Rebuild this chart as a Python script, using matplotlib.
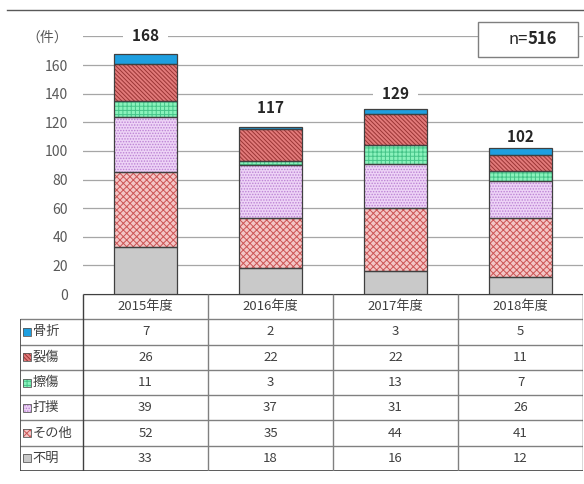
import numpy as np
import matplotlib
matplotlib.use('Agg')
import matplotlib.pyplot as plt
from matplotlib.patches import Rectangle
from matplotlib.lines import Line2D

plt.rcParams['font.family'] = ['Noto Sans CJK JP', 'DejaVu Sans']
plt.rcParams['hatch.linewidth'] = 0.7

# データ
years = ['2015年度', '2016年度', '2017年度', '2018年度']
kossetsu = [7, 2, 3, 5]      # 骨折
resshou = [26, 22, 22, 11]   # 裂傷
sasshou = [11, 3, 13, 7]     # 擦傷
dageki = [39, 37, 31, 26]    # 打撲
sonota = [52, 35, 44, 41]    # その他
fumei = [33, 18, 16, 12]     # 不明
n_total = 516

# 表の上から順
names = ['骨折', '裂傷', '擦傷', '打撲', 'その他', '不明']
series = [kossetsu, resshou, sasshou, dageki, sonota, fumei]
# (塗り, ハッチ, ハッチ色)
styles = [
    ('#1E9FE0', None, '#1E9FE0'),
    ('#E27A7A', '\\' * 8, '#9A3434'),
    ('#8AF2BC', '++++', '#45C488'),
    ('#EDD3F6', '......', '#BC82D4'),
    ('#F4C6C6', 'xxxxx', '#CC5555'),
    ('#C9C9C9', None, '#C9C9C9'),
]
label_offset = [12, 13, 11, 8]

W, H = 584, 484
fig = plt.figure(figsize=(W / 100, H / 100), dpi=100)

ppu = 125.0                       # px per category
y0, y_top = 294, 36.4
ax = fig.add_axes([83 / W, (H - y0) / H, 500 / W, (y0 - y_top) / H])
x = np.arange(len(years))
ax.set_xlim(-0.5, 3.5)
ax.set_ylim(0, 180)
ax.set_yticks(np.arange(0, 181, 20))
ax.set_yticklabels([str(v) for v in range(0, 161, 20)] + ['（件）'])
ax.tick_params(axis='y', length=0, pad=11, labelsize=10, labelcolor='#595959')
ax.set_xticks([])
for s in ax.spines.values():
    s.set_visible(False)
ax.grid(axis='y', color='#A6A6A6', linewidth=0.9)
ax.set_axisbelow(True)

bw = 0.51
bottom = np.zeros(len(years))
for vals, (fc, hatch, hc) in list(zip(series, styles))[::-1]:
    vals = np.array(vals, dtype=float)
    ax.bar(x, vals, bw, bottom=bottom, color=fc, edgecolor=hc, hatch=hatch,
           linewidth=0, zorder=2)
    ax.bar(x, vals, bw, bottom=bottom, facecolor='none', edgecolor='#404040',
           linewidth=0.9, zorder=3)
    bottom += vals

for i, tot in enumerate(bottom):
    ax.text(x[i], tot + label_offset[i], f'  {int(tot)}  ', ha='center', va='center',
            fontsize=11, fontweight='bold', color='#262626', zorder=4,
            bbox=dict(boxstyle='square,pad=0.1', facecolor='white', edgecolor='none'),
            clip_on=False)

# n= ボックス
fig.patches.append(Rectangle((478 / W, (H - 57) / H), 100 / W, 35 / H,
                             transform=fig.transFigure, facecolor='white',
                             edgecolor='#7F7F7F', linewidth=1.0, zorder=5))
fig.text(528 / W, (H - 39.5) / H, 'n=', ha='right', va='center', fontsize=12,
         color='#262626', zorder=6)
fig.text(528 / W, (H - 39.5) / H, f'{n_total}', ha='left', va='center', fontsize=12,
         fontweight='bold', color='#262626', zorder=6)

# 上の枠線
fig.lines.append(Line2D([7 / W, 1], [(H - 10) / H] * 2, transform=fig.transFigure,
                        color='#595959', linewidth=1.0))

# データテーブル
t_left, t_bot = 20, 471
tx0 = -0.5 - (83 - t_left) / ppu
tab = fig.add_axes([t_left / W, (H - t_bot) / H, (583 - t_left) / W, (t_bot - y0) / H])
tab.set_xlim(tx0, 3.5)
nrows = len(names) + 1
tab.set_ylim(nrows, 0)
tab.axis('off')

line_c, outer_c = '#808080', '#404040'
tab.hlines(0, -0.5, 3.5, color=outer_c, lw=1.0)
for r in range(1, nrows):
    tab.hlines(r, tx0, 3.5, color=line_c, lw=1.0)
tab.hlines(nrows, tx0, 3.5, color=outer_c, lw=1.2)
tab.vlines(tx0, 1, nrows, color=outer_c, lw=1.2)
for c in range(len(years) + 1):
    tab.vlines(c - 0.5, 0, nrows, color=outer_c if c in (0, len(years)) else line_c, lw=1.0)

for c, yr in enumerate(years):
    tab.text(c, 0.5, yr, ha='center', va='center', fontsize=9.5, color='#404040')

sw = 8 / ppu
sh = 8 / ((t_bot - y0) / nrows)
for r, (name, vals, (fc, hatch, hc)) in enumerate(zip(names, series, styles), start=1):
    sx = tx0 + 2.5 / ppu
    tab.add_patch(Rectangle((sx, r + 0.5 - sh / 2), sw, sh, facecolor=fc,
                            edgecolor=hc, hatch=hatch, linewidth=0))
    tab.add_patch(Rectangle((sx, r + 0.5 - sh / 2), sw, sh, facecolor='none',
                            edgecolor='#595959', linewidth=0.6))
    tab.text(sx + sw + 2 / ppu, r + 0.5, name, ha='left', va='center',
             fontsize=9.5, color='#404040')
    for c, v in enumerate(vals):
        tab.text(c, r + 0.5, str(v), ha='center', va='center', fontsize=9.5,
                 color='#404040')

fig.savefig('out.png', dpi=100)
